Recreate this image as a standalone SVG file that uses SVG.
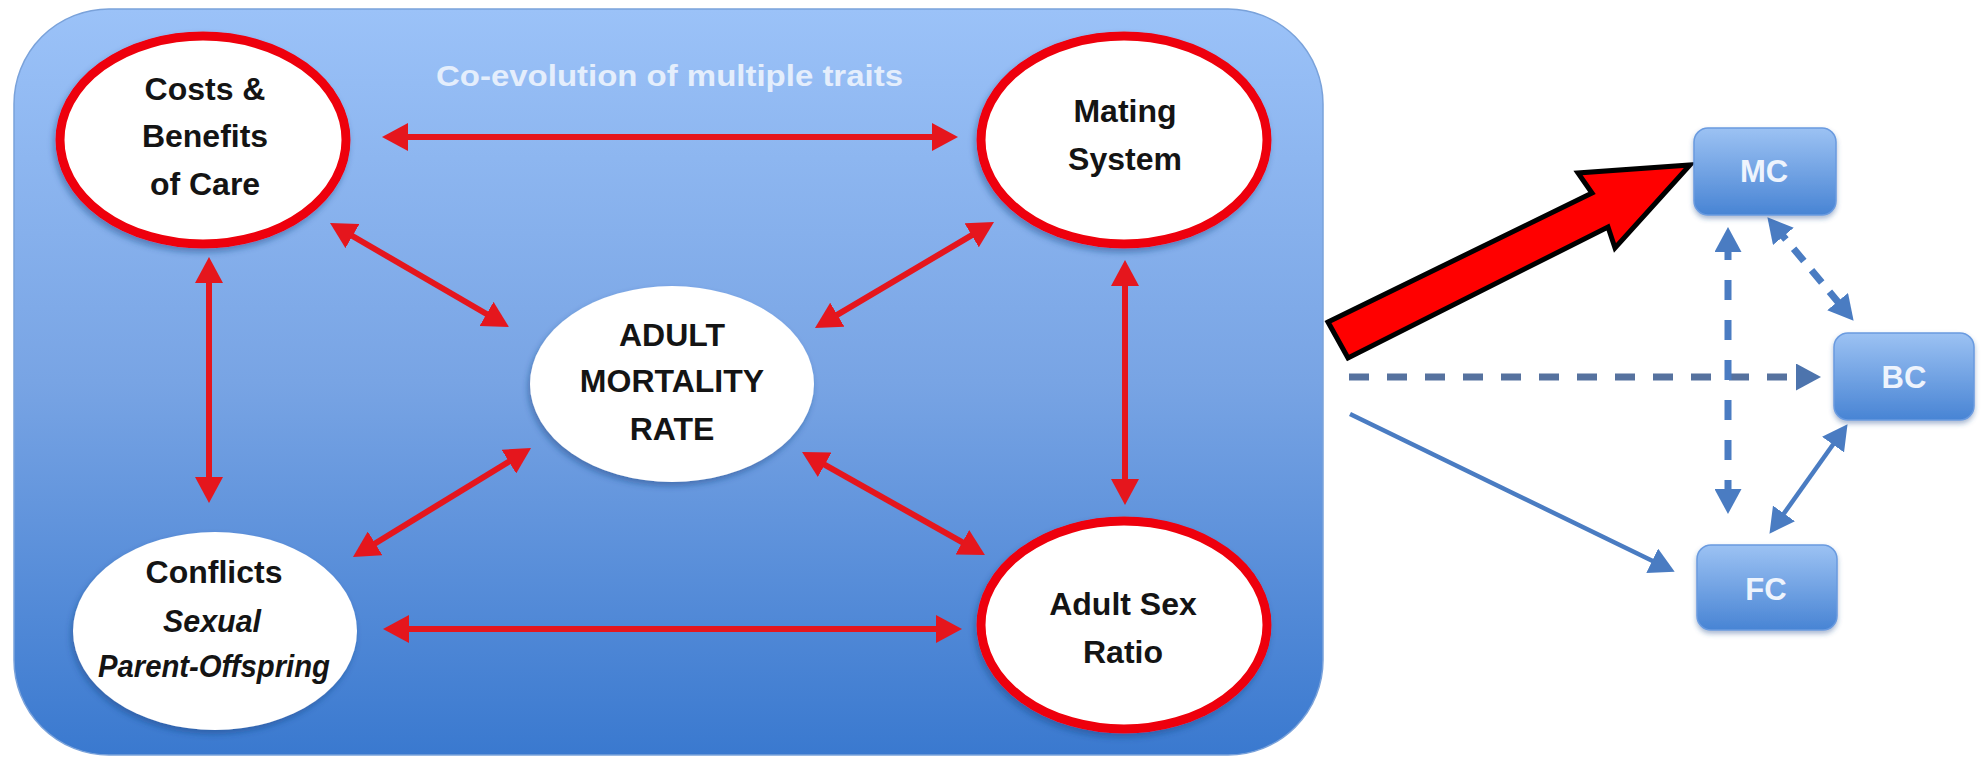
<svg xmlns="http://www.w3.org/2000/svg" width="1982" height="760" viewBox="0 0 1982 760">
<defs>
<linearGradient id="bg" x1="0" y1="0" x2="0" y2="1">
<stop offset="0" stop-color="#9bc2f8"/>
<stop offset="0.5" stop-color="#78a4e4"/>
<stop offset="1" stop-color="#3a79cf"/>
</linearGradient>
<linearGradient id="box" x1="0" y1="0" x2="0" y2="1">
<stop offset="0" stop-color="#9cc2f3"/>
<stop offset="1" stop-color="#4884d4"/>
</linearGradient>
<filter id="sh" x="-20%" y="-20%" width="140%" height="150%">
<feDropShadow dx="-2" dy="4" stdDeviation="3" flood-color="#1c3f7a" flood-opacity="0.45"/>
</filter>
<filter id="bsh" x="-20%" y="-20%" width="140%" height="150%">
<feDropShadow dx="0" dy="3" stdDeviation="2.5" flood-color="#27508f" flood-opacity="0.4"/>
</filter>
<marker id="rh" markerUnits="userSpaceOnUse" markerWidth="26" markerHeight="28" viewBox="0 0 26 28" refX="14" refY="14" orient="auto-start-reverse">
<path d="M0,0 L26,14 L0,28 z" fill="#e5161d"/>
</marker>
<marker id="bh" markerUnits="userSpaceOnUse" markerWidth="25" markerHeight="27" viewBox="0 0 25 27" refX="12" refY="13.5" orient="auto-start-reverse">
<path d="M0,0 L25,13.5 L0,27 z" fill="#4a7cc2"/>
</marker>
<marker id="gh" markerUnits="userSpaceOnUse" markerWidth="25" markerHeight="27" viewBox="0 0 25 27" refX="12" refY="13.5" orient="auto-start-reverse">
<path d="M0,0 L25,13.5 L0,27 z" fill="#4d74ad"/>
</marker>
<style>
.node{fill:#ffffff;filter:url(#sh)}
.ring{fill:#ffffff;stroke:#ee0008;stroke-width:9}
.t{font-family:"Liberation Sans",Arial,sans-serif;font-weight:bold;font-size:32px;fill:#141414;text-anchor:middle}
.it{font-style:italic}
.red{stroke:#e5161d;stroke-width:6;fill:none;marker-start:url(#rh);marker-end:url(#rh)}
.blu{stroke:#4a7cc2;fill:none}
.bx{fill:url(#box);stroke:#6a9be0;stroke-width:1.5;filter:url(#bsh)}
.bt{font-family:"Liberation Sans",Arial,sans-serif;font-weight:bold;font-size:31px;fill:#eef4fd;text-anchor:middle}
</style>
</defs>

<g id="panel">
<rect x="14" y="9" width="1309" height="746" rx="95" ry="95" fill="url(#bg)" stroke="#7aa2da" stroke-width="1.5"/>
<text x="436" y="86" font-family="'Liberation Sans',Arial,sans-serif" font-weight="bold" font-size="30" fill="#e4eefc" textLength="467" lengthAdjust="spacingAndGlyphs">Co-evolution of multiple traits</text>
</g>

<g id="connectors">
<line class="red" x1="394" y1="137" x2="946" y2="137"/>
<line class="red" x1="395" y1="629" x2="950" y2="629"/>
<line class="red" x1="209" y1="269" x2="209" y2="491"/>
<line class="red" x1="1125" y1="272" x2="1125" y2="493"/>
<line class="red" x1="340.4" y1="229" x2="498.6" y2="321"/>
<line class="red" x1="983.7" y1="228.1" x2="825.3" y2="321.9"/>
<line class="red" x1="363.2" y1="550.7" x2="520.8" y2="454.3"/>
<line class="red" x1="812.5" y1="457.9" x2="974.5" y2="549.1"/>

<line x1="1349" y1="377" x2="1808" y2="377" stroke="#56729f" stroke-width="7" stroke-dasharray="20 18" marker-end="url(#gh)"/>
<line class="blu" x1="1350" y1="414" x2="1663" y2="566" stroke-width="4.5" marker-end="url(#bh)"/>
<line class="blu" x1="1728" y1="240" x2="1728" y2="501" stroke-width="7" stroke-dasharray="20 20" marker-start="url(#bh)" marker-end="url(#bh)"/>
<line class="blu" x1="1775.7" y1="227.2" x2="1845.3" y2="310.8" stroke-width="7" stroke-dasharray="16 12" marker-start="url(#bh)" marker-end="url(#bh)"/>
<line class="blu" x1="1840" y1="434.8" x2="1777" y2="523.2" stroke-width="4.5" marker-start="url(#bh)" marker-end="url(#bh)"/>

<polygon id="bigarrow" points="1328,322 1592,193 1578,173 1690,165 1615,248 1608,227 1348,358" fill="#ff0000" stroke="#000000" stroke-width="5" stroke-linejoin="miter"/>
</g>

<g id="costs">
<ellipse class="ring" cx="203" cy="140" rx="143" ry="104" filter="url(#sh)"/>
<text class="t" x="205" y="100">Costs &amp;</text>
<text class="t" x="205" y="147">Benefits</text>
<text class="t" x="205" y="195">of Care</text>
</g>

<g id="mating">
<ellipse class="ring" cx="1124" cy="140" rx="143" ry="104" filter="url(#sh)"/>
<text class="t" x="1125" y="122">Mating</text>
<text class="t" x="1125" y="170">System</text>
</g>

<g id="mortality">
<ellipse class="node" cx="672" cy="384" rx="142" ry="98"/>
<text class="t" x="672" y="346">ADULT</text>
<text class="t" x="672" y="392">MORTALITY</text>
<text class="t" x="672" y="440">RATE</text>
</g>

<g id="conflicts">
<ellipse class="node" cx="215" cy="631" rx="142" ry="99"/>
<text class="t" x="214" y="583">Conflicts</text>
<text class="t it" x="212" y="632" textLength="98" lengthAdjust="spacingAndGlyphs">Sexual</text>
<text class="t it" x="214" y="677" textLength="232" lengthAdjust="spacingAndGlyphs">Parent-Offspring</text>
</g>

<g id="sexratio">
<ellipse class="ring" cx="1124" cy="625" rx="143" ry="104" filter="url(#sh)"/>
<text class="t" x="1123" y="615">Adult Sex</text>
<text class="t" x="1123" y="663">Ratio</text>
</g>

<g id="mc">
<rect class="bx" x="1694" y="128" width="142" height="87" rx="14"/>
<text class="bt" x="1764" y="182">MC</text>
</g>
<g id="bc">
<rect class="bx" x="1834" y="333" width="140" height="87" rx="14"/>
<text class="bt" x="1904" y="388">BC</text>
</g>
<g id="fc">
<rect class="bx" x="1697" y="545" width="140" height="85" rx="14"/>
<text class="bt" x="1766" y="600">FC</text>
</g>
</svg>
